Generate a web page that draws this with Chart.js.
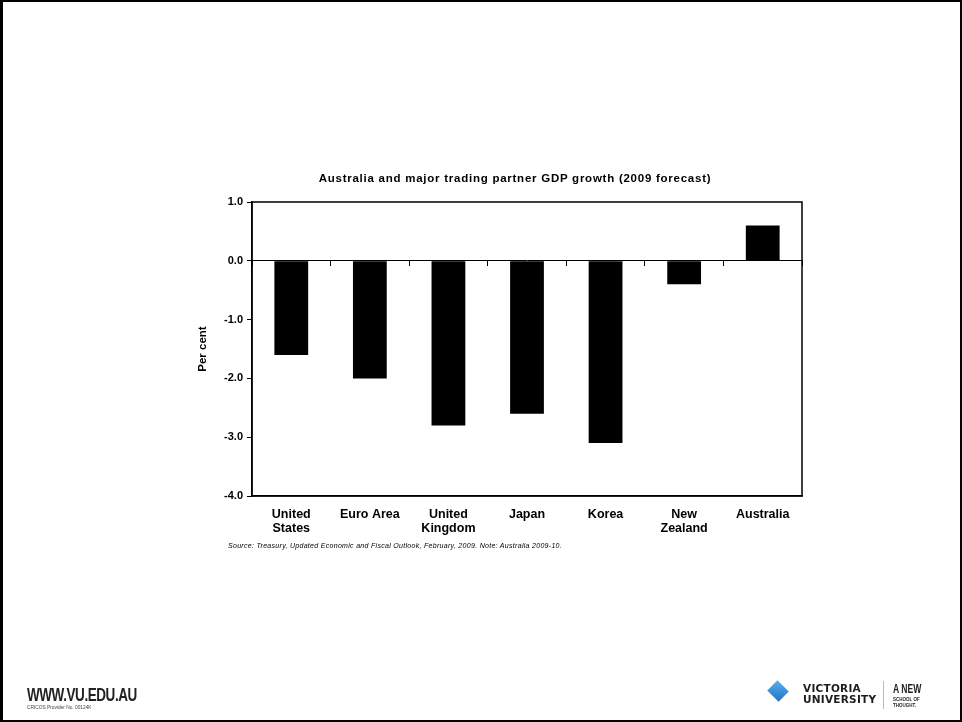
<!DOCTYPE html>
<html>
<head>
<meta charset="utf-8">
<script src="https://cdn.jsdelivr.net/npm/chart.js@4.4.1/dist/chart.umd.min.js"></script>
<style>
  html, body { margin: 0; padding: 0; background: #fff; }
  #page {
    position: relative; width: 962px; height: 722px; box-sizing: border-box;
    border: 2px solid #000; border-left-width: 3px; overflow: hidden;
    font-family: "Liberation Sans", Arial, sans-serif;
  }
  #chart { position: absolute; left: -3px; top: -2px; }
  .abs { position: absolute; white-space: nowrap; }
  #title { left: 0; width: 1024px; top: 170px; text-align: center; font-weight: bold; font-size: 11.5px; letter-spacing: 0.75px; }
  #source { left: 225px; top: 540px; font-style: italic; font-size: 7px; letter-spacing: 0.3px; }
  #www { left: 24px; top: 682px; font-weight: bold; font-size: 19px; letter-spacing: -0.6px; color: #222;
         transform: scaleX(0.71); transform-origin: 0 0; }
  #cricos { left: 24px; top: 702px; font-size: 6px; color: #444; transform: scaleX(0.8); transform-origin: 0 0; }
  #diamond { left: 767px; top: 681px; width: 16px; height: 16px; background: linear-gradient(135deg, #5aaef0, #1f74c8);
             transform: rotate(45deg) scaleY(0.9); }
  .vu { font-family: "DejaVu Sans", sans-serif; font-weight: bold; font-size: 10.5px; color: #1c1c1c; line-height: 11px; letter-spacing: 0.25px; }
  #sep { left: 880px; top: 679px; width: 1px; height: 28px; background: #bbb; }
  #anew { left: 890px; top: 679px; font-weight: bold; font-size: 13px; color: #222;
          transform: scaleX(0.66); transform-origin: 0 0; }
  .tiny { font-weight: bold; font-size: 6px; color: #222; line-height: 6px; transform: scaleX(0.75); transform-origin: 0 0; }
</style>
</head>
<body>
<div id="page">
  <canvas id="chart" width="962" height="722"></canvas>
  <div class="abs" id="title">Australia and major trading partner GDP growth (2009 forecast)</div>
  <div class="abs" id="source">Source: Treasury, Updated Economic and Fiscal Outlook, February, 2009. Note: Australia 2009-10.</div>
  <div class="abs" id="www">WWW.VU.EDU.AU</div>
  <div class="abs" id="cricos">CRICOS Provider No. 00124K</div>
  <div class="abs" id="diamond"></div>
  <div class="abs vu" style="left:800px; top:681px;">VICTORIA</div>
  <div class="abs vu" style="left:800px; top:692px;">UNIVERSITY</div>
  <div class="abs" id="sep"></div>
  <div class="abs" id="anew">A NEW</div>
  <div class="abs tiny" style="left:890px; top:694px;">SCHOOL OF</div>
  <div class="abs tiny" style="left:890px; top:700px;">THOUGHT.</div>
</div>

<script>
// chart data
var countries = [['United', 'States'], 'Euro Area', ['United', 'Kingdom'], 'Japan', 'Korea', ['New', 'Zealand'], 'Australia'];
var growth = [-1.6, -2.0, -2.8, -2.6, -3.1, -0.4, 0.6];
var yTicks = [1.0, 0.0, -1.0, -2.0, -3.0, -4.0];

var FONT = 'Liberation Sans, Arial, sans-serif';

//box round the plot area (top and right sides)
var plotFrame = {
  id: 'plotFrame',
  afterDraw: function(chart) {
    var a = chart.chartArea, ctx = chart.ctx;
    ctx.save();
    ctx.strokeStyle = '#000';
    ctx.lineWidth = 1.5;
    ctx.strokeRect(a.left, a.top, a.right - a.left, a.bottom - a.top);
    ctx.restore();
  }
};

new Chart(document.getElementById('chart'), {
  type: 'bar',
  data: {
    labels: countries,
    datasets: [{
      data: growth,
      backgroundColor: '#000',
      borderWidth: 0,
      barPercentage: 0.43,
      categoryPercentage: 1,
      xAxisID: 'x'
    }]
  },
  options: {
    responsive: false,
    animation: false,
    layout: { padding: { left: 196, right: 160, top: 202, bottom: 181 } },
    plugins: { legend: { display: false }, tooltip: { enabled: false } },
    scales: {
      x: {
        position: 'bottom',
        grid: { display: false, drawTicks: false },
        border: { display: true, color: '#000', width: 1.5 },
        ticks: { color: '#000', padding: 11, maxRotation: 0, autoSkip: false,
                 font: { family: FONT, size: 12.5, weight: 'bold', lineHeight: 1.15 } },
        afterFit: function(scale) { scale.height = 45; }
      },
      x0: {
        type: 'category',
        labels: countries,
        position: { y: 0 },
        offset: true,
        grid: { offset: true, drawOnChartArea: false, drawTicks: true, tickLength: 5, color: '#000', lineWidth: 1 },
        border: { display: true, color: '#000', width: 1 },
        ticks: { display: false }
      },
      y: {
        min: -4,
        max: 1,
        afterBuildTicks: function(scale) {
          scale.ticks = yTicks.map(function(v) { return { value: v }; });
        },
        grid: { drawOnChartArea: false, drawTicks: true, tickLength: 5, color: '#000' },
        border: { display: true, color: '#000', width: 1.5 },
        ticks: {
          color: '#000', padding: 4,
          font: { family: FONT, size: 11, weight: 'bold' },
          callback: function(v) { return Number(v).toFixed(1); }
        },
        title: { display: true, text: 'Per cent', color: '#000', padding: 0,
                 font: { family: FONT, size: 11.5, weight: 'bold' } },
        afterFit: function(scale) { scale.width = 56; }
      }
    }
  },
  plugins: [plotFrame]
});
</script>
</body>
</html>
